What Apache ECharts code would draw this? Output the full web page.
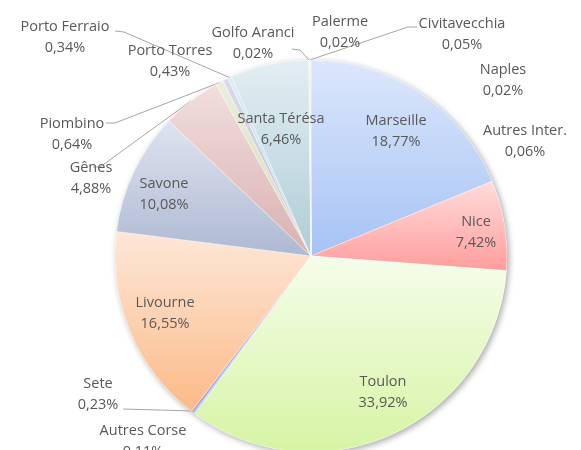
<!DOCTYPE html>
<html>
<head>
<meta charset="utf-8">
<script src="https://cdn.jsdelivr.net/npm/echarts@6/dist/echarts.min.js"></script>
<style>
  html, body { margin: 0; padding: 0; background: #fff; }
  #chart { width: 581px; height: 450px; }
</style>
</head>
<body>
<div id="chart"></div>
<script>
// ports, clockwise from 12 o'clock
const ports = ['Marseille', 'Nice', 'Toulon', 'Autres Corse', 'Sete', 'Livourne', 'Savone', 'Gênes',
  'Piombino', 'Porto Torres', 'Porto Ferraio', 'Santa Térésa', 'Golfo Aranci', 'Palerme',
  'Civitavecchia', 'Naples', 'Autres Inter.']
const shares = [18.77, 7.42, 33.92, 0.11, 0.23, 16.55, 10.08, 4.88,
  0.64, 0.43, 0.34, 6.46, 0.02, 0.02, 0.05, 0.02, 0.06]

// gradient top / bottom per slice
const topColors = ['#dce7fb', '#ffdcdc', '#f5fdea', '#a8dcf2', '#cbbde2', '#fde7d8', '#dfe3ee', '#f1dede',
  '#e9efdc', '#ddd8e8', '#d9eef3', '#e2eef2', '#ffd9bb', '#fbc4b4', '#c9d9f5', '#f8c8c8', '#dcefc8']
const bottomColors = ['#a6c3f5', '#ff9d9d', '#d6f4a4', '#8fd0ec', '#b4a2d3', '#fcba87', '#adb9d3', '#d9b0b0',
  '#cfdcb4', '#c4bcd6', '#b5dde8', '#b0ccd8', '#fcbf8f', '#f7a690', '#a6c3f5', '#ff9d9d', '#c9e6a4']

// label centres (Excel style manual placement)
const labelPos = [[396, 131], [476, 232], [383, 392], [143, 441], [98, 394], [165, 313], [164, 194], [91, 178],
  [72, 134], [170, 61], [65, 37], [281, 129], [253, 43], [340, 32], [462, 34], [503, 80], [525, 141]]
// leader lines: [elbow, end at label]
const leaders = {
  4: [[193, 411], [123, 409]],
  7: [[100, 167], [93, 167]],
  8: [[115, 123], [106, 123]],
  10: [[124, 32], [115, 31]],
  12: [[300, 50], [292, 49]],
  14: [[408, 27], [417, 27]]
}

const chart = echarts.init(document.getElementById('chart'))

const data = ports.map((name, i) => ({
  name,
  value: shares[i],
  itemStyle: {
    color: new echarts.graphic.LinearGradient(0, 0, 0, 1, [
      { offset: 0, color: topColors[i] },
      { offset: 1, color: bottomColors[i] }
    ])
  },
  labelLine: { show: !!leaders[i] }
}))

chart.setOption({
  animation: false,
  series: [
    {
      // shadow disc behind the pie
      type: 'pie',
      silent: true,
      center: [311, 256],
      radius: 196,
      label: { show: false },
      labelLine: { show: false },
      itemStyle: {
        color: '#ffffff',
        shadowBlur: 6,
        shadowOffsetX: 2,
        shadowOffsetY: 2,
        shadowColor: 'rgba(0,0,0,0.35)'
      },
      data: [{ name: 'bg', value: 1 }],
      z: 1
    },
    {
      type: 'pie',
      center: [311, 256],
      radius: 196,
      startAngle: 90,
      clockwise: true,
      avoidLabelOverlap: false,
      z: 2,
      itemStyle: {
        borderColor: 'rgba(255,255,255,0.7)',
        borderWidth: 0.5
      },
      label: {
        show: true,
        color: '#595959',
        fontFamily: 'Open Sans',
        fontSize: 14.5,
        lineHeight: 21,
        align: 'center',
        formatter: p => p.name + '\n' + p.value.toFixed(2).replace('.', ',') + '%'
      },
      labelLine: {
        lineStyle: { color: '#a6a6a6', width: 1 }
      },
      labelLayout: params => {
        const i = params.dataIndex
        const out = {
          x: labelPos[i][0],
          y: labelPos[i][1],
          align: 'center',
          verticalAlign: 'middle'
        }
        if (leaders[i] && params.labelLinePoints) {
          out.labelLinePoints = [params.labelLinePoints[0], leaders[i][0], leaders[i][1]]
        }
        return out
      },
      data
    }
  ]
})
</script>
</body>
</html>
